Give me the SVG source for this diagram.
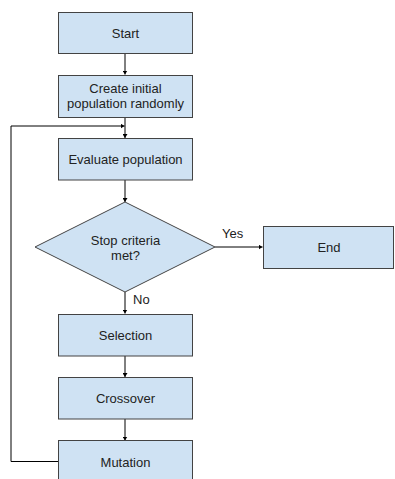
<svg xmlns="http://www.w3.org/2000/svg" width="395" height="479" viewBox="0 0 395 479">
<defs>
<style>
.box{fill:#cfe2f3;stroke:#434343;stroke-width:1}
.t{font-family:"Liberation Sans",Arial,sans-serif;font-size:13px;fill:#222;text-anchor:middle}
.lbl{font-family:"Liberation Sans",Arial,sans-serif;font-size:13px;fill:#222}
.c{fill:none;stroke:#000;stroke-width:1}
</style>
<marker id="ah" markerWidth="5" markerHeight="5" refX="4" refY="2.5" orient="auto" markerUnits="userSpaceOnUse">
<path d="M0,0 L4,2.5 L0,5 z" fill="#000"/>
</marker>
</defs>
<rect width="395" height="479" fill="#fff"/>
<g id="connectors">
<path class="c" d="M125,53.5 V74.5" marker-end="url(#ah)"/>
<path class="c" d="M125,117.5 V138" marker-end="url(#ah)"/>
<path class="c" d="M125,180 V202" marker-end="url(#ah)"/>
<path class="c" d="M215,247 H262.5" marker-end="url(#ah)"/>
<path class="c" d="M125,292 V313.5" marker-end="url(#ah)"/>
<path class="c" d="M125,356 V377" marker-end="url(#ah)"/>
<path class="c" d="M125,419 V440.5" marker-end="url(#ah)"/>
<path class="c" d="M58,461.5 H11 V126 H124.5" marker-end="url(#ah)"/>
<text class="lbl" x="222" y="238">Yes</text>
<text class="lbl" x="133" y="304">No</text>
</g>
<g id="start"><rect class="box" x="58.5" y="12.5" width="134" height="41"/><text class="t" x="125.5" y="38">Start</text></g>
<g id="create"><rect class="box" x="58.5" y="75.5" width="134" height="42"/><text class="t" x="125.5" y="93">Create initial</text><text class="t" x="125.5" y="108">population randomly</text></g>
<g id="evaluate"><rect class="box" x="58.5" y="138.5" width="134" height="41.5"/><text class="t" x="125.5" y="164">Evaluate population</text></g>
<g id="decision"><polygon class="box" points="125,202 215,247 125,292 35,247"/><text class="t" x="125.5" y="245">Stop criteria</text><text class="t" x="125.5" y="260">met?</text></g>
<g id="end"><rect class="box" x="263.5" y="226.5" width="130" height="42"/><text class="t" x="329" y="252">End</text></g>
<g id="selection"><rect class="box" x="58.5" y="314.5" width="134" height="41.5"/><text class="t" x="125.5" y="340">Selection</text></g>
<g id="crossover"><rect class="box" x="58.5" y="377.5" width="134" height="41.5"/><text class="t" x="125.5" y="403">Crossover</text></g>
<g id="mutation"><rect class="box" x="58.5" y="440.5" width="134" height="45"/><text class="t" x="125.5" y="467">Mutation</text></g>
</svg>
